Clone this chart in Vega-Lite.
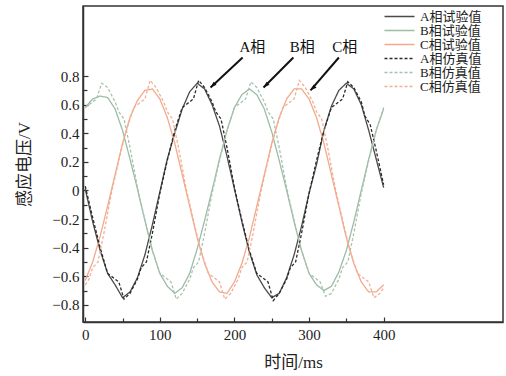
{
  "$schema": "https://vega.github.io/schema/vega-lite/v6.json",
  "autosize": {"type": "none"},
  "padding": {"left": 83, "top": 6, "right": 3, "bottom": 54},
  "width": 420,
  "height": 316,
  "background": "#ffffff",
  "config": {
    "font": "Liberation Serif, Noto Sans CJK SC",
    "view": {"stroke": "#333333", "strokeWidth": 1.5},
    "axis": {
      "grid": false,
      "domainColor": "#333333",
      "domainWidth": 1.5,
      "tickColor": "#333333",
      "tickWidth": 1.2,
      "labelColor": "#222222",
      "titleColor": "#222222",
      "labelFontSize": 15,
      "titleFontSize": 17,
      "titleFontWeight": "normal"
    },
    "legend": {
      "labelFontSize": 13,
      "labelColor": "#222222",
      "symbolType": "M-3,0L3,0",
      "symbolStrokeWidth": 1.3
    }
  },
  "resolve": {"axis": {"x": "independent", "y": "independent"}},
  "data": {
    "values": [
      {"t": 0, "s": "A相试验值", "v": 0.01}, {"t": 10, "s": "A相试验值", "v": -0.22}, {"t": 20, "s": "A相试验值", "v": -0.42},
      {"t": 30, "s": "A相试验值", "v": -0.58}, {"t": 40, "s": "A相试验值", "v": -0.66}, {"t": 50, "s": "A相试验值", "v": -0.75},
      {"t": 60, "s": "A相试验值", "v": -0.71}, {"t": 70, "s": "A相试验值", "v": -0.61}, {"t": 80, "s": "A相试验值", "v": -0.45},
      {"t": 90, "s": "A相试验值", "v": -0.24}, {"t": 100, "s": "A相试验值", "v": -0.01}, {"t": 110, "s": "A相试验值", "v": 0.22},
      {"t": 120, "s": "A相试验值", "v": 0.40}, {"t": 130, "s": "A相试验值", "v": 0.57}, {"t": 140, "s": "A相试验值", "v": 0.69},
      {"t": 150, "s": "A相试验值", "v": 0.75}, {"t": 160, "s": "A相试验值", "v": 0.71}, {"t": 170, "s": "A相试验值", "v": 0.60},
      {"t": 180, "s": "A相试验值", "v": 0.45}, {"t": 190, "s": "A相试验值", "v": 0.24}, {"t": 200, "s": "A相试验值", "v": 0.01},
      {"t": 210, "s": "A相试验值", "v": -0.22}, {"t": 220, "s": "A相试验值", "v": -0.43}, {"t": 230, "s": "A相试验值", "v": -0.59},
      {"t": 240, "s": "A相试验值", "v": -0.68}, {"t": 250, "s": "A相试验值", "v": -0.75}, {"t": 260, "s": "A相试验值", "v": -0.72},
      {"t": 270, "s": "A相试验值", "v": -0.61}, {"t": 280, "s": "A相试验值", "v": -0.45}, {"t": 290, "s": "A相试验值", "v": -0.25},
      {"t": 300, "s": "A相试验值", "v": -0.02}, {"t": 310, "s": "A相试验值", "v": 0.18}, {"t": 320, "s": "A相试验值", "v": 0.42},
      {"t": 330, "s": "A相试验值", "v": 0.59}, {"t": 340, "s": "A相试验值", "v": 0.70}, {"t": 350, "s": "A相试验值", "v": 0.75},
      {"t": 360, "s": "A相试验值", "v": 0.71}, {"t": 370, "s": "A相试验值", "v": 0.60}, {"t": 380, "s": "A相试验值", "v": 0.42},
      {"t": 390, "s": "A相试验值", "v": 0.22}, {"t": 400, "s": "A相试验值", "v": 0.02},

      {"t": 0, "s": "B相试验值", "v": 0.58}, {"t": 10, "s": "B相试验值", "v": 0.64}, {"t": 20, "s": "B相试验值", "v": 0.66},
      {"t": 30, "s": "B相试验值", "v": 0.65}, {"t": 40, "s": "B相试验值", "v": 0.57}, {"t": 50, "s": "B相试验值", "v": 0.42},
      {"t": 60, "s": "B相试验值", "v": 0.22}, {"t": 70, "s": "B相试验值", "v": 0.01}, {"t": 80, "s": "B相试验值", "v": -0.21},
      {"t": 90, "s": "B相试验值", "v": -0.42}, {"t": 100, "s": "B相试验值", "v": -0.58}, {"t": 110, "s": "B相试验值", "v": -0.67},
      {"t": 120, "s": "B相试验值", "v": -0.72}, {"t": 130, "s": "B相试验值", "v": -0.68}, {"t": 140, "s": "B相试验值", "v": -0.58},
      {"t": 150, "s": "B相试验值", "v": -0.41}, {"t": 160, "s": "B相试验值", "v": -0.21}, {"t": 170, "s": "B相试验值", "v": 0.00},
      {"t": 180, "s": "B相试验值", "v": 0.22}, {"t": 190, "s": "B相试验值", "v": 0.42}, {"t": 200, "s": "B相试验值", "v": 0.58},
      {"t": 210, "s": "B相试验值", "v": 0.67}, {"t": 220, "s": "B相试验值", "v": 0.71}, {"t": 230, "s": "B相试验值", "v": 0.67},
      {"t": 240, "s": "B相试验值", "v": 0.57}, {"t": 250, "s": "B相试验值", "v": 0.41}, {"t": 260, "s": "B相试验值", "v": 0.21},
      {"t": 270, "s": "B相试验值", "v": 0.00}, {"t": 280, "s": "B相试验值", "v": -0.22}, {"t": 290, "s": "B相试验值", "v": -0.42},
      {"t": 300, "s": "B相试验值", "v": -0.58}, {"t": 310, "s": "B相试验值", "v": -0.66}, {"t": 320, "s": "B相试验值", "v": -0.70},
      {"t": 330, "s": "B相试验值", "v": -0.67}, {"t": 340, "s": "B相试验值", "v": -0.57}, {"t": 350, "s": "B相试验值", "v": -0.42},
      {"t": 360, "s": "B相试验值", "v": -0.22}, {"t": 370, "s": "B相试验值", "v": 0.00}, {"t": 380, "s": "B相试验值", "v": 0.22},
      {"t": 390, "s": "B相试验值", "v": 0.42}, {"t": 400, "s": "B相试验值", "v": 0.57},

      {"t": 0, "s": "C相试验值", "v": -0.63}, {"t": 10, "s": "C相试验值", "v": -0.50}, {"t": 20, "s": "C相试验值", "v": -0.32},
      {"t": 30, "s": "C相试验值", "v": -0.11}, {"t": 40, "s": "C相试验值", "v": 0.11}, {"t": 50, "s": "C相试验值", "v": 0.33},
      {"t": 60, "s": "C相试验值", "v": 0.51}, {"t": 70, "s": "C相试验值", "v": 0.63}, {"t": 80, "s": "C相试验值", "v": 0.70},
      {"t": 90, "s": "C相试验值", "v": 0.71}, {"t": 100, "s": "C相试验值", "v": 0.64}, {"t": 110, "s": "C相试验值", "v": 0.51},
      {"t": 120, "s": "C相试验值", "v": 0.33}, {"t": 130, "s": "C相试验值", "v": 0.11}, {"t": 140, "s": "C相试验值", "v": -0.11},
      {"t": 150, "s": "C相试验值", "v": -0.33}, {"t": 160, "s": "C相试验值", "v": -0.51}, {"t": 170, "s": "C相试验值", "v": -0.64},
      {"t": 180, "s": "C相试验值", "v": -0.71}, {"t": 190, "s": "C相试验值", "v": -0.72}, {"t": 200, "s": "C相试验值", "v": -0.64},
      {"t": 210, "s": "C相试验值", "v": -0.51}, {"t": 220, "s": "C相试验值", "v": -0.33}, {"t": 230, "s": "C相试验值", "v": -0.11},
      {"t": 240, "s": "C相试验值", "v": 0.11}, {"t": 250, "s": "C相试验值", "v": 0.33}, {"t": 260, "s": "C相试验值", "v": 0.51},
      {"t": 270, "s": "C相试验值", "v": 0.64}, {"t": 280, "s": "C相试验值", "v": 0.71}, {"t": 290, "s": "C相试验值", "v": 0.71},
      {"t": 300, "s": "C相试验值", "v": 0.64}, {"t": 310, "s": "C相试验值", "v": 0.51}, {"t": 320, "s": "C相试验值", "v": 0.33},
      {"t": 330, "s": "C相试验值", "v": 0.11}, {"t": 340, "s": "C相试验值", "v": -0.11}, {"t": 350, "s": "C相试验值", "v": -0.33},
      {"t": 360, "s": "C相试验值", "v": -0.51}, {"t": 370, "s": "C相试验值", "v": -0.64}, {"t": 380, "s": "C相试验值", "v": -0.71},
      {"t": 390, "s": "C相试验值", "v": -0.71}, {"t": 400, "s": "C相试验值", "v": -0.66},

      {"t": 0, "s": "A相仿真值", "v": 0.03}, {"t": 10, "s": "A相仿真值", "v": -0.19}, {"t": 20, "s": "A相仿真值", "v": -0.40},
      {"t": 30, "s": "A相仿真值", "v": -0.58}, {"t": 40, "s": "A相仿真值", "v": -0.62}, {"t": 45, "s": "A相仿真值", "v": -0.64},
      {"t": 52, "s": "A相仿真值", "v": -0.76}, {"t": 60, "s": "A相仿真值", "v": -0.72}, {"t": 70, "s": "A相仿真值", "v": -0.62},
      {"t": 75, "s": "A相仿真值", "v": -0.54}, {"t": 82, "s": "A相仿真值", "v": -0.50}, {"t": 90, "s": "A相仿真值", "v": -0.30},
      {"t": 100, "s": "A相仿真值", "v": -0.02}, {"t": 110, "s": "A相仿真值", "v": 0.21}, {"t": 120, "s": "A相仿真值", "v": 0.42},
      {"t": 130, "s": "A相仿真值", "v": 0.58}, {"t": 140, "s": "A相仿真值", "v": 0.62}, {"t": 145, "s": "A相仿真值", "v": 0.64},
      {"t": 152, "s": "A相仿真值", "v": 0.77}, {"t": 160, "s": "A相仿真值", "v": 0.72}, {"t": 170, "s": "A相仿真值", "v": 0.62},
      {"t": 175, "s": "A相仿真值", "v": 0.55}, {"t": 182, "s": "A相仿真值", "v": 0.50}, {"t": 190, "s": "A相仿真值", "v": 0.30},
      {"t": 200, "s": "A相仿真值", "v": 0.02}, {"t": 210, "s": "A相仿真值", "v": -0.21}, {"t": 220, "s": "A相仿真值", "v": -0.42},
      {"t": 230, "s": "A相仿真值", "v": -0.58}, {"t": 240, "s": "A相仿真值", "v": -0.62}, {"t": 245, "s": "A相仿真值", "v": -0.64},
      {"t": 252, "s": "A相仿真值", "v": -0.77}, {"t": 260, "s": "A相仿真值", "v": -0.72}, {"t": 270, "s": "A相仿真值", "v": -0.62},
      {"t": 275, "s": "A相仿真值", "v": -0.54}, {"t": 282, "s": "A相仿真值", "v": -0.50}, {"t": 290, "s": "A相仿真值", "v": -0.30},
      {"t": 300, "s": "A相仿真值", "v": -0.02}, {"t": 310, "s": "A相仿真值", "v": 0.21}, {"t": 320, "s": "A相仿真值", "v": 0.42},
      {"t": 330, "s": "A相仿真值", "v": 0.58}, {"t": 340, "s": "A相仿真值", "v": 0.62}, {"t": 345, "s": "A相仿真值", "v": 0.64},
      {"t": 352, "s": "A相仿真值", "v": 0.76}, {"t": 360, "s": "A相仿真值", "v": 0.72}, {"t": 370, "s": "A相仿真值", "v": 0.62},
      {"t": 375, "s": "A相仿真值", "v": 0.52}, {"t": 382, "s": "A相仿真值", "v": 0.46}, {"t": 390, "s": "A相仿真值", "v": 0.28},
      {"t": 400, "s": "A相仿真值", "v": 0.04},

      {"t": 0, "s": "B相仿真值", "v": 0.58}, {"t": 10, "s": "B相仿真值", "v": 0.62}, {"t": 15, "s": "B相仿真值", "v": 0.64},
      {"t": 22, "s": "B相仿真值", "v": 0.75}, {"t": 30, "s": "B相仿真值", "v": 0.72}, {"t": 40, "s": "B相仿真值", "v": 0.62},
      {"t": 45, "s": "B相仿真值", "v": 0.55}, {"t": 52, "s": "B相仿真值", "v": 0.50}, {"t": 60, "s": "B相仿真值", "v": 0.30},
      {"t": 70, "s": "B相仿真值", "v": 0.02}, {"t": 80, "s": "B相仿真值", "v": -0.21}, {"t": 90, "s": "B相仿真值", "v": -0.42},
      {"t": 100, "s": "B相仿真值", "v": -0.58}, {"t": 110, "s": "B相仿真值", "v": -0.62}, {"t": 115, "s": "B相仿真值", "v": -0.64},
      {"t": 122, "s": "B相仿真值", "v": -0.76}, {"t": 130, "s": "B相仿真值", "v": -0.72}, {"t": 140, "s": "B相仿真值", "v": -0.62},
      {"t": 145, "s": "B相仿真值", "v": -0.54}, {"t": 152, "s": "B相仿真值", "v": -0.50}, {"t": 160, "s": "B相仿真值", "v": -0.30},
      {"t": 170, "s": "B相仿真值", "v": -0.02}, {"t": 180, "s": "B相仿真值", "v": 0.21}, {"t": 190, "s": "B相仿真值", "v": 0.42},
      {"t": 200, "s": "B相仿真值", "v": 0.58}, {"t": 210, "s": "B相仿真值", "v": 0.62}, {"t": 215, "s": "B相仿真值", "v": 0.64},
      {"t": 222, "s": "B相仿真值", "v": 0.76}, {"t": 230, "s": "B相仿真值", "v": 0.72}, {"t": 240, "s": "B相仿真值", "v": 0.62},
      {"t": 245, "s": "B相仿真值", "v": 0.55}, {"t": 252, "s": "B相仿真值", "v": 0.50}, {"t": 260, "s": "B相仿真值", "v": 0.30},
      {"t": 270, "s": "B相仿真值", "v": 0.02}, {"t": 280, "s": "B相仿真值", "v": -0.21}, {"t": 290, "s": "B相仿真值", "v": -0.42},
      {"t": 300, "s": "B相仿真值", "v": -0.58}, {"t": 310, "s": "B相仿真值", "v": -0.62}, {"t": 315, "s": "B相仿真值", "v": -0.64},
      {"t": 322, "s": "B相仿真值", "v": -0.74}, {"t": 330, "s": "B相仿真值", "v": -0.72}, {"t": 340, "s": "B相仿真值", "v": -0.62},
      {"t": 345, "s": "B相仿真值", "v": -0.54}, {"t": 352, "s": "B相仿真值", "v": -0.50}, {"t": 360, "s": "B相仿真值", "v": -0.30},
      {"t": 370, "s": "B相仿真值", "v": -0.02}, {"t": 380, "s": "B相仿真值", "v": 0.21}, {"t": 390, "s": "B相仿真值", "v": 0.42},
      {"t": 400, "s": "B相仿真值", "v": 0.58},

      {"t": 0, "s": "C相仿真值", "v": -0.66}, {"t": 5, "s": "C相仿真值", "v": -0.62}, {"t": 10, "s": "C相仿真值", "v": -0.54},
      {"t": 17, "s": "C相仿真值", "v": -0.50}, {"t": 25, "s": "C相仿真值", "v": -0.30}, {"t": 35, "s": "C相仿真值", "v": -0.02},
      {"t": 45, "s": "C相仿真值", "v": 0.21}, {"t": 55, "s": "C相仿真值", "v": 0.42}, {"t": 65, "s": "C相仿真值", "v": 0.58},
      {"t": 75, "s": "C相仿真值", "v": 0.62}, {"t": 80, "s": "C相仿真值", "v": 0.64}, {"t": 87, "s": "C相仿真值", "v": 0.77},
      {"t": 95, "s": "C相仿真值", "v": 0.72}, {"t": 105, "s": "C相仿真值", "v": 0.62}, {"t": 110, "s": "C相仿真值", "v": 0.55},
      {"t": 117, "s": "C相仿真值", "v": 0.50}, {"t": 125, "s": "C相仿真值", "v": 0.30}, {"t": 135, "s": "C相仿真值", "v": 0.02},
      {"t": 145, "s": "C相仿真值", "v": -0.21}, {"t": 155, "s": "C相仿真值", "v": -0.42}, {"t": 165, "s": "C相仿真值", "v": -0.58},
      {"t": 175, "s": "C相仿真值", "v": -0.62}, {"t": 180, "s": "C相仿真值", "v": -0.64}, {"t": 187, "s": "C相仿真值", "v": -0.76},
      {"t": 195, "s": "C相仿真值", "v": -0.72}, {"t": 205, "s": "C相仿真值", "v": -0.62}, {"t": 210, "s": "C相仿真值", "v": -0.54},
      {"t": 217, "s": "C相仿真值", "v": -0.50}, {"t": 225, "s": "C相仿真值", "v": -0.30}, {"t": 235, "s": "C相仿真值", "v": -0.02},
      {"t": 245, "s": "C相仿真值", "v": 0.21}, {"t": 255, "s": "C相仿真值", "v": 0.42}, {"t": 265, "s": "C相仿真值", "v": 0.58},
      {"t": 275, "s": "C相仿真值", "v": 0.62}, {"t": 280, "s": "C相仿真值", "v": 0.64}, {"t": 287, "s": "C相仿真值", "v": 0.77},
      {"t": 295, "s": "C相仿真值", "v": 0.72}, {"t": 305, "s": "C相仿真值", "v": 0.62}, {"t": 310, "s": "C相仿真值", "v": 0.55},
      {"t": 317, "s": "C相仿真值", "v": 0.50}, {"t": 325, "s": "C相仿真值", "v": 0.30}, {"t": 335, "s": "C相仿真值", "v": 0.02},
      {"t": 345, "s": "C相仿真值", "v": -0.21}, {"t": 355, "s": "C相仿真值", "v": -0.42}, {"t": 365, "s": "C相仿真值", "v": -0.58},
      {"t": 375, "s": "C相仿真值", "v": -0.62}, {"t": 380, "s": "C相仿真值", "v": -0.64}, {"t": 387, "s": "C相仿真值", "v": -0.75},
      {"t": 395, "s": "C相仿真值", "v": -0.72}, {"t": 400, "s": "C相仿真值", "v": -0.68}
    ]
  },
  "layer": [
    {
      "mark": {"type": "line", "strokeWidth": 1.3},
      "encoding": {
        "x": {
          "field": "t", "type": "quantitative",
          "scale": {"domain": [-3, 560], "nice": false, "zero": false},
          "axis": {
            "orient": "bottom",
            "title": null,
            "values": [50, 150, 250, 350],
            "tickCount": 40,
            "labels": false,
            "domain": false,
            "tickSize": -4
          }
        },
        "y": {
          "field": "v", "type": "quantitative",
          "scale": {"domain": [-0.92, 1.29], "nice": false, "zero": false},
          "axis": {
            "orient": "left",
            "title": null,
            "values": [-0.7, -0.5, -0.3, -0.1, 0.1, 0.3, 0.5, 0.7],
            "tickCount": 40,
            "labels": false,
            "domain": false,
            "tickSize": -4
          }
        },
        "color": {
          "field": "s", "type": "nominal",
          "scale": {
            "domain": ["A相试验值", "B相试验值", "C相试验值", "A相仿真值", "B相仿真值", "C相仿真值"],
            "range": ["#4a4a4a", "#9dbba5", "#f2a98c", "#2a2a2a", "#a9c2b0", "#f0b096"]
          },
          "legend": {"title": null, "orient": "none", "legendX": 310, "legendY": 4, "symbolSize": 100, "rowPadding": -0.5, "labelOffset": 14}
        },
        "strokeDash": {
          "field": "s", "type": "nominal",
          "scale": {
            "domain": ["A相试验值", "B相试验值", "C相试验值", "A相仿真值", "B相仿真值", "C相仿真值"],
            "range": [[1, 0], [1, 0], [1, 0], [3, 2], [3, 2], [3, 2]]
          },
          "legend": {"title": null, "orient": "none", "legendX": 310, "legendY": 4, "symbolSize": 100, "rowPadding": -0.5, "labelOffset": 14}
        }
      }
    },
    {
      "data": {
        "values": [
          {"lab": "A相", "t0": 211, "v0": 0.93, "t1": 168, "v1": 0.72, "tt": 224, "tv": 1.0},
          {"lab": "B相", "t0": 279, "v0": 0.93, "t1": 239, "v1": 0.72, "tt": 291, "tv": 1.0},
          {"lab": "C相", "t0": 340, "v0": 0.93, "t1": 302, "v1": 0.70, "tt": 348, "tv": 1.0}
        ]
      },
      "layer": [
        {
          "mark": {"type": "rule", "color": "#111111", "strokeWidth": 2},
          "encoding": {
            "x": {
              "field": "t0", "type": "quantitative",
              "axis": {
                "orient": "bottom",
                "title": "时间/ms",
                "values": [0, 100, 200, 300, 400],
                "tickCount": 40,
                "labelOverlap": false,
                "tickSize": -5,
                "labelPadding": 10,
                "titlePadding": 12
              }
            },
            "y": {
              "field": "v0", "type": "quantitative",
              "axis": {
                "orient": "left",
                "title": "感应电压/V",
                "values": [-0.8, -0.6, -0.4, -0.2, 0, 0.2, 0.4, 0.6, 0.8],
                "tickCount": 40,
                "labelOverlap": false,
                "format": ".1~f",
                "tickSize": -5,
                "labelPadding": 9,
                "titlePadding": 18
              }
            },
            "x2": {"field": "t1"},
            "y2": {"field": "v1"}
          }
        },
        {
          "mark": {"type": "point", "shape": "M0,0L0.45,1.3L-0.45,1.3Z", "filled": true, "color": "#111111", "opacity": 1, "size": 90, "angle": 227},
          "encoding": {
            "x": {"field": "t1", "type": "quantitative"},
            "y": {"field": "v1", "type": "quantitative"}
          }
        },
        {
          "mark": {"type": "text", "fontSize": 15, "color": "#111111"},
          "encoding": {
            "x": {"field": "tt", "type": "quantitative"},
            "y": {"field": "tv", "type": "quantitative"},
            "text": {"field": "lab"}
          }
        }
      ]
    }
  ]
}
